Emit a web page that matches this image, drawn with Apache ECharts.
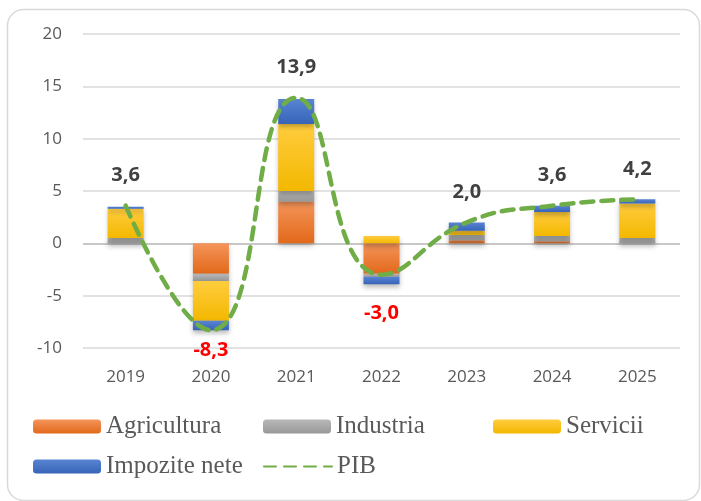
<!DOCTYPE html>
<html>
<head>
<meta charset="utf-8">
<script src="https://cdn.jsdelivr.net/npm/echarts@6/dist/echarts.min.js"></script>
<style>
  html, body { margin: 0; padding: 0; background: #fff; }
  #chart { width: 701px; height: 501px; }
</style>
</head>
<body>
<div id="chart"></div>
<script>
// contributii la cresterea PIB, puncte procentuale
var years = ["2019", "2020", "2021", "2022", "2023", "2024", "2025"];
var agricultura = [0, -2.9, 4.0, -2.9, 0.3, 0.2, 0];
var industria = [0.5, -0.7, 1.0, -0.3, 0.5, 0.5, 0.5];
var servicii = [2.8, -3.8, 6.4, 0.7, 0.4, 2.3, 3.3];
var impozite = [0.2, -0.9, 2.4, -0.7, 0.8, 0.6, 0.4];
var pib = [3.6, -8.3, 13.9, -3.0, 2.0, 3.6, 4.2];

function grad(top, bottom) {
  return new echarts.graphic.LinearGradient(0, 0, 0, 1, [
    { offset: 0, color: top },
    { offset: 1, color: bottom }
  ]);
}

function barSeries(name, data, top, bottom) {
  return {
    name: name,
    type: "bar",
    stack: "total",
    barWidth: 36,
    data: data,
    itemStyle: {
      color: grad(top, bottom),
      shadowColor: "rgba(0,0,0,0.28)",
      shadowBlur: 5,
      shadowOffsetY: 3
    }
  };
}

function fmt(v) {
  return v.toFixed(1).replace(".", ",");
}

// etichete PIB: pozitive deasupra (gri), negative dedesubt (rosu)
var pibData = pib.map(function (v, i) {
  var neg = v < 0;
  return {
    value: v,
    label: {
      position: neg ? "bottom" : "top",
      distance: neg ? (i === 3 ? 28 : 10) : 20,
      color: neg ? "#FF0000" : "#404040"
    }
  };
});

function legendAt(name, left, top, extra) {
  return Object.assign({
    data: [name],
    left: left,
    top: top,
    itemWidth: 68,
    itemHeight: 14,
    selectedMode: false,
    itemStyle: { shadowBlur: 0, shadowOffsetY: 0 },
    textStyle: {
      fontFamily: "Liberation Serif",
      fontSize: 25,
      color: "#595959"
    }
  }, extra || {});
}

var chart = echarts.init(document.getElementById("chart"));
chart.setOption({
  animation: false,
  graphic: [{
    type: "rect",
    left: 5,
    top: 7,
    silent: true,
    shape: { width: 692, height: 491, r: 16 },
    style: { fill: "none", stroke: "#D9D9D9", lineWidth: 1.5 }
  }],
  grid: { left: 83, right: 21, top: 34, bottom: 153 },
  legend: [
    legendAt("Agricultura", 28, 409),
    legendAt("Industria", 258, 409),
    legendAt("Servicii", 488, 409),
    legendAt("Impozite nete", 28, 449),
    legendAt("PIB", 258, 449, { itemStyle: { opacity: 0 } })
  ],
  xAxis: {
    type: "category",
    data: years,
    axisLine: { show: false, onZero: false },
    axisTick: { show: false },
    axisLabel: {
      margin: 21,
      fontFamily: "Open Sans",
      fontSize: 17,
      color: "#595959"
    }
  },
  yAxis: {
    type: "value",
    min: -10,
    max: 20,
    interval: 5,
    axisLine: { show: false },
    axisTick: { show: false },
    splitLine: { lineStyle: { color: "#D9D9D9", width: 1.5 } },
    axisLabel: {
      margin: 21,
      fontFamily: "Open Sans",
      fontSize: 17,
      color: "#595959"
    }
  },
  series: [
    Object.assign(barSeries("Agricultura", agricultura, "#F4945A", "#E2691A"), {
      markLine: {
        silent: true,
        symbol: "none",
        label: { show: false },
        lineStyle: { color: "#C8C8C8", width: 2, type: "solid" },
        data: [{ yAxis: 0 }],
        z: 1
      }
    }),
    barSeries("Industria", industria, "#B8B8B8", "#989898"),
    barSeries("Servicii", servicii, "#FFCC3E", "#F3B800"),
    barSeries("Impozite nete", impozite, "#5884D2", "#3764B8"),
    {
      name: "PIB",
      type: "line",
      smooth: 0.5,
      symbol: "circle",
      symbolSize: 1,
      showSymbol: true,
      z: 5,
      data: pibData,
      lineStyle: { color: "#70AD47", width: 4.5, type: [12, 8], cap: "round" },
      itemStyle: { color: "#70AD47" },
      label: {
        show: true,
        fontFamily: "Open Sans",
        fontWeight: "bold",
        fontSize: 20,
        formatter: function (p) { return fmt(p.value); }
      }
    }
  ]
});
</script>
</body>
</html>
